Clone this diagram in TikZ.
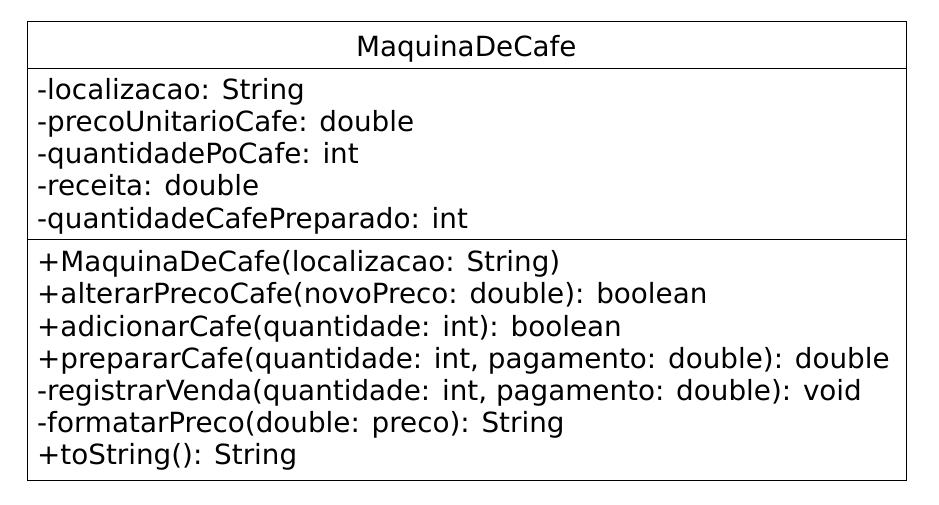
\documentclass[tikz,border=0pt]{standalone}
\usepackage{fontspec}
\setmainfont{DejaVu Sans}
\begin{document}
\begin{tikzpicture}[x=1pt,y=-1pt,
  umltext/.style={anchor=base west,inner sep=0pt,font=\fontsize{27.8}{32}\selectfont},
  umltitle/.style={anchor=base,inner sep=0pt,font=\fontsize{27.8}{32}\selectfont},
  boxline/.style={draw=black,line width=1pt}]
\useasboundingbox (0,0) rectangle (939,504);
\fill[white] (0,0) rectangle (939,504);
\draw[boxline] (27.3,21.3) rectangle (906.3,480);
\draw[boxline] (27.3,68.3) -- (906.3,68.3);
\draw[boxline] (27.3,239.3) -- (906.3,239.3);
\node[umltitle] (title) at (466.3,56.7) {MaquinaDeCafe};
\node[umltext] (a1) at (37,99.3) {-localizacao: String};
\node[umltext] (a2) at (37,131.5) {-precoUnitarioCafe: double};
\node[umltext] (a3) at (37,163.7) {-quantidadePoCafe: int};
\node[umltext] (a4) at (37,195.9) {-receita: double};
\node[umltext] (a5) at (37,228.1) {-quantidadeCafePreparado: int};
\node[umltext] (m1) at (37,271.7) {+MaquinaDeCafe(localizacao: String)};
\node[umltext] (m2) at (37,303.9) {+alterarPrecoCafe(novoPreco: double): boolean};
\node[umltext] (m3) at (37,336.1) {+adicionarCafe(quantidade: int): boolean};
\node[umltext] (m4) at (37,368.3) {+prepararCafe(quantidade: int, pagamento: double): double};
\node[umltext] (m5) at (37,400.5) {-registrarVenda(quantidade: int, pagamento: double): void};
\node[umltext] (m6) at (37,432.7) {-formatarPreco(double: preco): String};
\node[umltext] (m7) at (37,464.9) {+toString(): String};
\end{tikzpicture}
\end{document}
